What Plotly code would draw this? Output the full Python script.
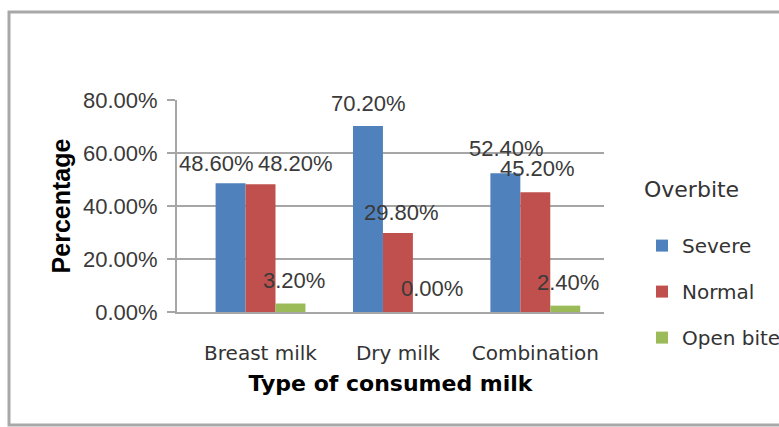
import plotly.graph_objects as go

categories = ["Breast milk", "Dry milk", "Combination"]
series_names = ["Severe", "Normal", "Open bite"]
severe = [0.486, 0.702, 0.524]
normal = [0.482, 0.298, 0.452]
open_bite = [0.032, 0.000, 0.024]
y_ticks = [0, 0.2, 0.4, 0.6, 0.8]

colors = ["#4F81BD", "#C0504D", "#9BBB59"]
# label nudges (pixels) per series / category, to mimic the hand-placed labels
label_dx = [[-13, 2, 2], [35, 4, 2], [2, 3, 2]]
label_dy = [[20, 22, 25], [21, 21, 24], [23, 24, 23]]

W, H = 779, 427
L, R, T, B = 177, 175, 100, 115
bargap = 0.346

fig = go.Figure()
all_vals = [severe, normal, open_bite]
for name, vals, col in zip(series_names, all_vals, colors):
    fig.add_trace(go.Bar(
        x=categories, y=vals, name=name, marker=dict(color=col, line=dict(width=0)),
        legendgroup=name,
    ))

plot_w = W - L - R
cat_w = plot_w / len(categories)
bar_w = cat_w * (1 - bargap) / len(series_names)

annotations = []
for si, vals in enumerate(all_vals):
    for ci, v in enumerate(vals):
        annotations.append(dict(
            x=categories[ci], y=v, xref="x", yref="y",
            text=f"{v*100:.2f}%", showarrow=False,
            xshift=(si - 1) * bar_w + label_dx[si][ci],
            yshift=label_dy[si][ci], yanchor="middle", xanchor="center",
            font=dict(family="Liberation Sans, Arial", size=22, color="#3a3a3a"),
        ))

fig.update_layout(
    width=W, height=H,
    margin=dict(l=L, r=R, t=T, b=B, autoexpand=False),
    paper_bgcolor="white", plot_bgcolor="white",
    barmode="group", bargap=bargap, bargroupgap=0,
    annotations=annotations,
    showlegend=True,
    legend=dict(
        title=dict(text="Overbite<br> ", font=dict(family="DejaVu Sans", size=22, color="#333333")),
        font=dict(family="DejaVu Sans", size=20, color="#333333"),
        x=1.089, xanchor="left", y=0.675, yanchor="top",
        traceorder="grouped", tracegroupgap=17,
        bgcolor="rgba(0,0,0,0)",
    ),
    shapes=[dict(
        type="rect", xref="paper", yref="paper",
        x0=(9 - L) / plot_w, x1=(W + 10 - L) / plot_w,
        y0=-(425 - (H - B)) / (H - T - B), y1=1 + (T - 12) / (H - T - B),
        line=dict(color="#a8a8a8", width=3), fillcolor="rgba(0,0,0,0)", layer="below",
    )],
)

fig.update_yaxes(
    range=[0, 0.8], tickvals=y_ticks, tickformat=".2%",
    showgrid=True, gridcolor="#a6a6a6", gridwidth=2,
    zeroline=False,
    showline=True, linecolor="#a6a6a6", linewidth=2,
    ticks="outside", ticklen=8, tickcolor="#a6a6a6", tickwidth=2,
    ticklabelstandoff=5,
    tickfont=dict(family="Liberation Sans, Arial", size=22, color="#3a3a3a"),
    title=dict(text="Percentage", font=dict(family="Liberation Sans, Arial", size=25, color="black", weight="bold"), standoff=5),
)
fig.update_xaxes(
    showline=True, linecolor="#a6a6a6", linewidth=2,
    ticks="", ticklabelstandoff=22,
    tickfont=dict(family="DejaVu Sans", size=20, color="#333333"),
    title=dict(text="Type of consumed milk", font=dict(family="DejaVu Sans", size=22, color="black", weight="bold"), standoff=12),
)

fig.write_html("out.html")
